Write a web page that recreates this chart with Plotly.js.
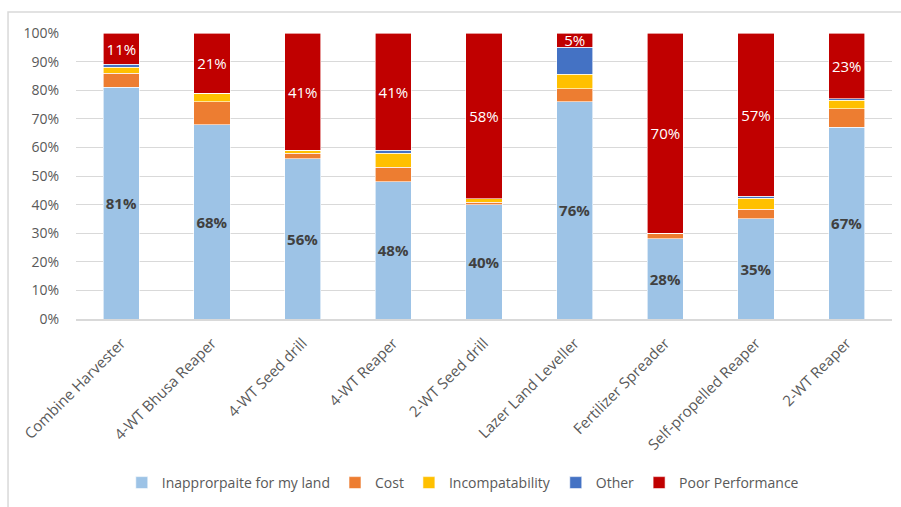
<!DOCTYPE html>
<html>
<head>
<meta charset="utf-8">
<script src="https://cdn.plot.ly/plotly-3.0.1.min.js"></script>
<style>html,body{margin:0;padding:0;background:#fff;}#chart{width:901px;height:507px;}</style>
</head>
<body>
<div id="chart"></div>
<script>
var categories = ["Combine Harvester","4-WT Bhusa Reaper","4-WT Seed drill","4-WT Reaper","2-WT Seed drill","Lazer Land Leveller","Fertilizer Spreader","Self-propelled Reaper","2-WT Reaper"];
var inappropriate = [81, 68, 56, 48, 40, 76, 28, 35, 67];
var cost = [5, 8, 2, 5, 0.8, 4.5, 2, 3.3, 6.5];
var incompat = [2, 3, 1, 5, 1.2, 5, 0, 3.9, 3];
var other = [1, 0, 0, 1, 0, 9.5, 0, 0.8, 0.5];
var poor = [11, 21, 41, 41, 58, 5, 70, 57, 23];
var seriesNames = ["Inapprorpaite for my land","Cost","Incompatability","Other","Poor Performance"];
var colors = ["#9DC3E6","#ED7D31","#FFC000","#4472C4","#C00000"];

function pct(arr){ return arr.map(function(v){ return Math.round(v) + "%"; }); }

var font = "'Open Sans', sans-serif";
var allSeries = [inappropriate, cost, incompat, other, poor];
var traces = allSeries.map(function(vals, i){
  var t = {
    type: "bar",
    name: seriesNames[i],
    x: categories,
    y: vals,
    marker: {color: colors[i], line: {color: "#ffffff", width: 0.6}},
    hoverinfo: "none"
  };
  if (i === 0) {
    t.text = pct(vals);
    t.textposition = "inside";
    t.insidetextanchor = "middle";
    t.textangle = 0;
    t.constraintext = "none";
    t.textfont = {family: font, size: 15, color: "#404040", weight: "bold"};
  } else if (i === 4) {
    t.text = pct(vals);
    t.textposition = "inside";
    t.insidetextanchor = "middle";
    t.textangle = 0;
    t.constraintext = "none";
    t.textfont = {family: font, size: 15, color: "#ffffff"};
  } else {
    t.textposition = "none";
  }
  return t;
});

var layout = {
  width: 901, height: 507,
  margin: {l: 76, r: 9, t: 33, b: 187, pad: 0},
  barmode: "stack",
  bargap: 0.6,
  paper_bgcolor: "#ffffff",
  plot_bgcolor: "#ffffff",
  font: {family: font, size: 14, color: "#595959"},
  showlegend: true,
  legend: {
    orientation: "h", x: 0.474, xanchor: "center", y: -0.568, yanchor: "middle",
    font: {family: font, size: 14, color: "#595959"},
    traceorder: "normal", itemclick: false, itemdoubleclick: false
  },
  xaxis: {
    type: "category",
    tickangle: -45,
    tickfont: {family: font, size: 15, color: "#595959"},
    ticklabelstandoff: 8,
    showgrid: false,
    showline: true, linecolor: "#d9d9d9", linewidth: 1.5,
    ticks: "", automargin: false, fixedrange: true
  },
  yaxis: {
    range: [0, 100],
    tickvals: [0,10,20,30,40,50,60,70,80,90,100],
    ticktext: ["0%","10%","20%","30%","40%","50%","60%","70%","80%","90%","100%"],
    tickfont: {family: font, size: 14, color: "#595959"},
    ticklabelstandoff: 16,
    showgrid: true, gridcolor: "#d9d9d9", gridwidth: 1,
    zeroline: false, showline: false, ticks: "", ticklen: 0,
    automargin: false, fixedrange: true
  },
  shapes: [{
    type: "rect", xref: "paper", yref: "paper",
    x0: -0.0833, x1: 1.1, y0: -0.7, y1: 1.0732,
    line: {color: "#d9d9d9", width: 1.5}, fillcolor: "rgba(0,0,0,0)", layer: "below"
  }]
};

Plotly.newPlot("chart", traces, layout, {displayModeBar: false, staticPlot: true});
</script>
</body>
</html>
